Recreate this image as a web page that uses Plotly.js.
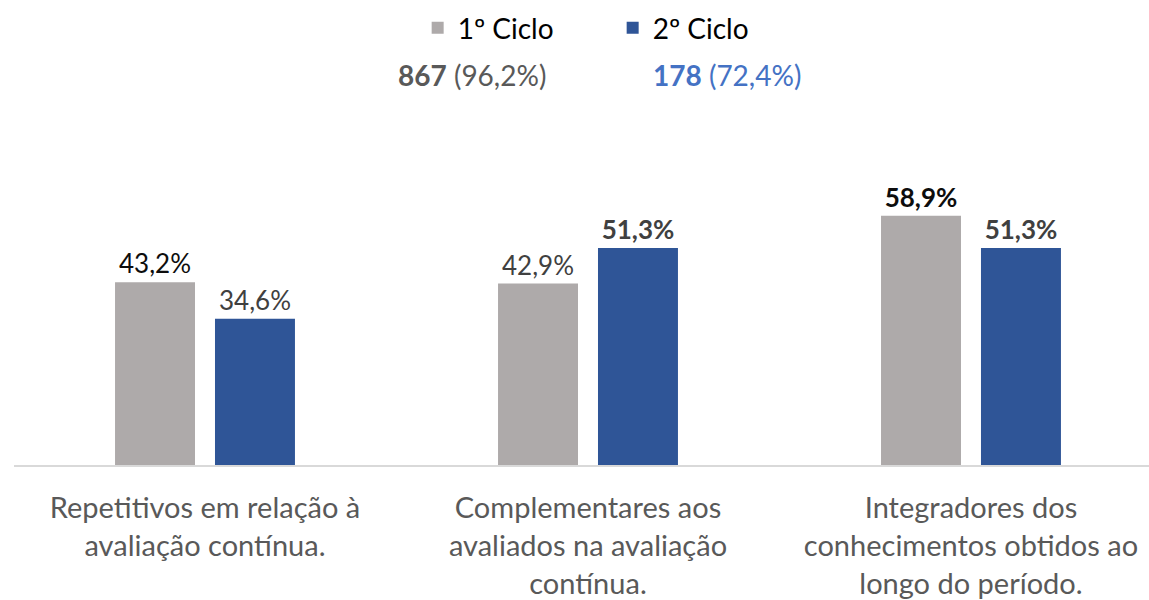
<!DOCTYPE html>
<html>
<head>
<meta charset="utf-8">
<script src="https://cdn.plot.ly/plotly-3.0.1.min.js"></script>
<style>html,body{margin:0;padding:0;background:#fff;}#chart{width:1149px;height:600px;}</style>
</head>
<body>
<div id="chart"></div>
<script>
const categories = [
  "Repetitivos em relação à<br>avaliação contínua.",
  "Complementares aos<br>avaliados na avaliação<br>contínua.",
  "Integradores dos<br>conhecimentos obtidos ao<br>longo do período."
];
const seriesNames = ["1º Ciclo", "2º Ciclo"];
const ciclo1 = [43.2, 42.9, 58.9];
const ciclo2 = [34.6, 51.3, 51.3];
const ciclo1Bold = [false, false, true];
const ciclo2Bold = [false, true, true];
const totals = ["867", "178"];
const totalsPct = ["(96,2%)", "(72,4%)"];

const fmt = (v, b) => {
  const s = v.toFixed(1).replace('.', ',') + '%';
  return b ? '<b>' + s + '</b>' : s;
};

const font = 'Lato, "Open Sans", sans-serif';

const traces = [
  {
    type: 'bar', name: seriesNames[0], x: categories, y: ciclo1,
    marker: {color: '#AEAAAA'},
    text: ciclo1.map((v, i) => fmt(v, ciclo1Bold[i])),
    textposition: 'outside', cliponaxis: false,
    textfont: {family: font, size: 26, color: ['#0D0D0D', '#404040', '#0D0D0D']},
    hoverinfo: 'none'
  },
  {
    type: 'bar', name: seriesNames[1], x: categories, y: ciclo2,
    marker: {color: '#2F5597'},
    text: ciclo2.map((v, i) => fmt(v, ciclo2Bold[i])),
    textposition: 'outside', cliponaxis: false,
    textfont: {family: font, size: 26, color: ['#404040', '#404040', '#404040']},
    hoverinfo: 'none'
  }
];

const layout = {
  width: 1149, height: 600,
  margin: {l: 14, r: 0, t: 130, b: 135},
  paper_bgcolor: '#fff', plot_bgcolor: '#fff',
  barmode: 'group', bargap: 0.478, bargroupgap: 0.2,
  font: {family: font},
  xaxis: {
    type: 'category', range: [-0.4987, 2.4648],
    showline: true, linecolor: '#D9D9D9', linewidth: 1.5,
    ticks: '', ticklabelstandoff: 17,
    tickfont: {family: font, size: 29, color: '#595959'},
    showgrid: false, zeroline: false
  },
  yaxis: {
    range: [0, 79.2], visible: false, showgrid: false, zeroline: false
  },
  showlegend: true,
  legend: {
    orientation: 'h', xref: 'container', yref: 'container',
    x: 0.3635, xanchor: 'left', y: 0.995, yanchor: 'top',
    font: {family: font, size: 28, color: '#000'},
    itemsizing: 'constant', entrywidth: 150, traceorder: 'normal'
  },
  annotations: [
    {xref: 'paper', yref: 'paper', x: 0.4035, y: 1.164, xanchor: 'center', yanchor: 'middle', showarrow: false,
     text: '<b>' + totals[0] + '</b> ' + totalsPct[0], font: {family: font, size: 28, color: '#595959'}},
    {xref: 'paper', yref: 'paper', x: 0.628, y: 1.164, xanchor: 'center', yanchor: 'middle', showarrow: false,
     text: '<b>' + totals[1] + '</b> ' + totalsPct[1], font: {family: font, size: 28, color: '#4472C4'}}
  ]
};

Plotly.newPlot('chart', traces, layout, {displayModeBar: false, staticPlot: true});
</script>
</body>
</html>
